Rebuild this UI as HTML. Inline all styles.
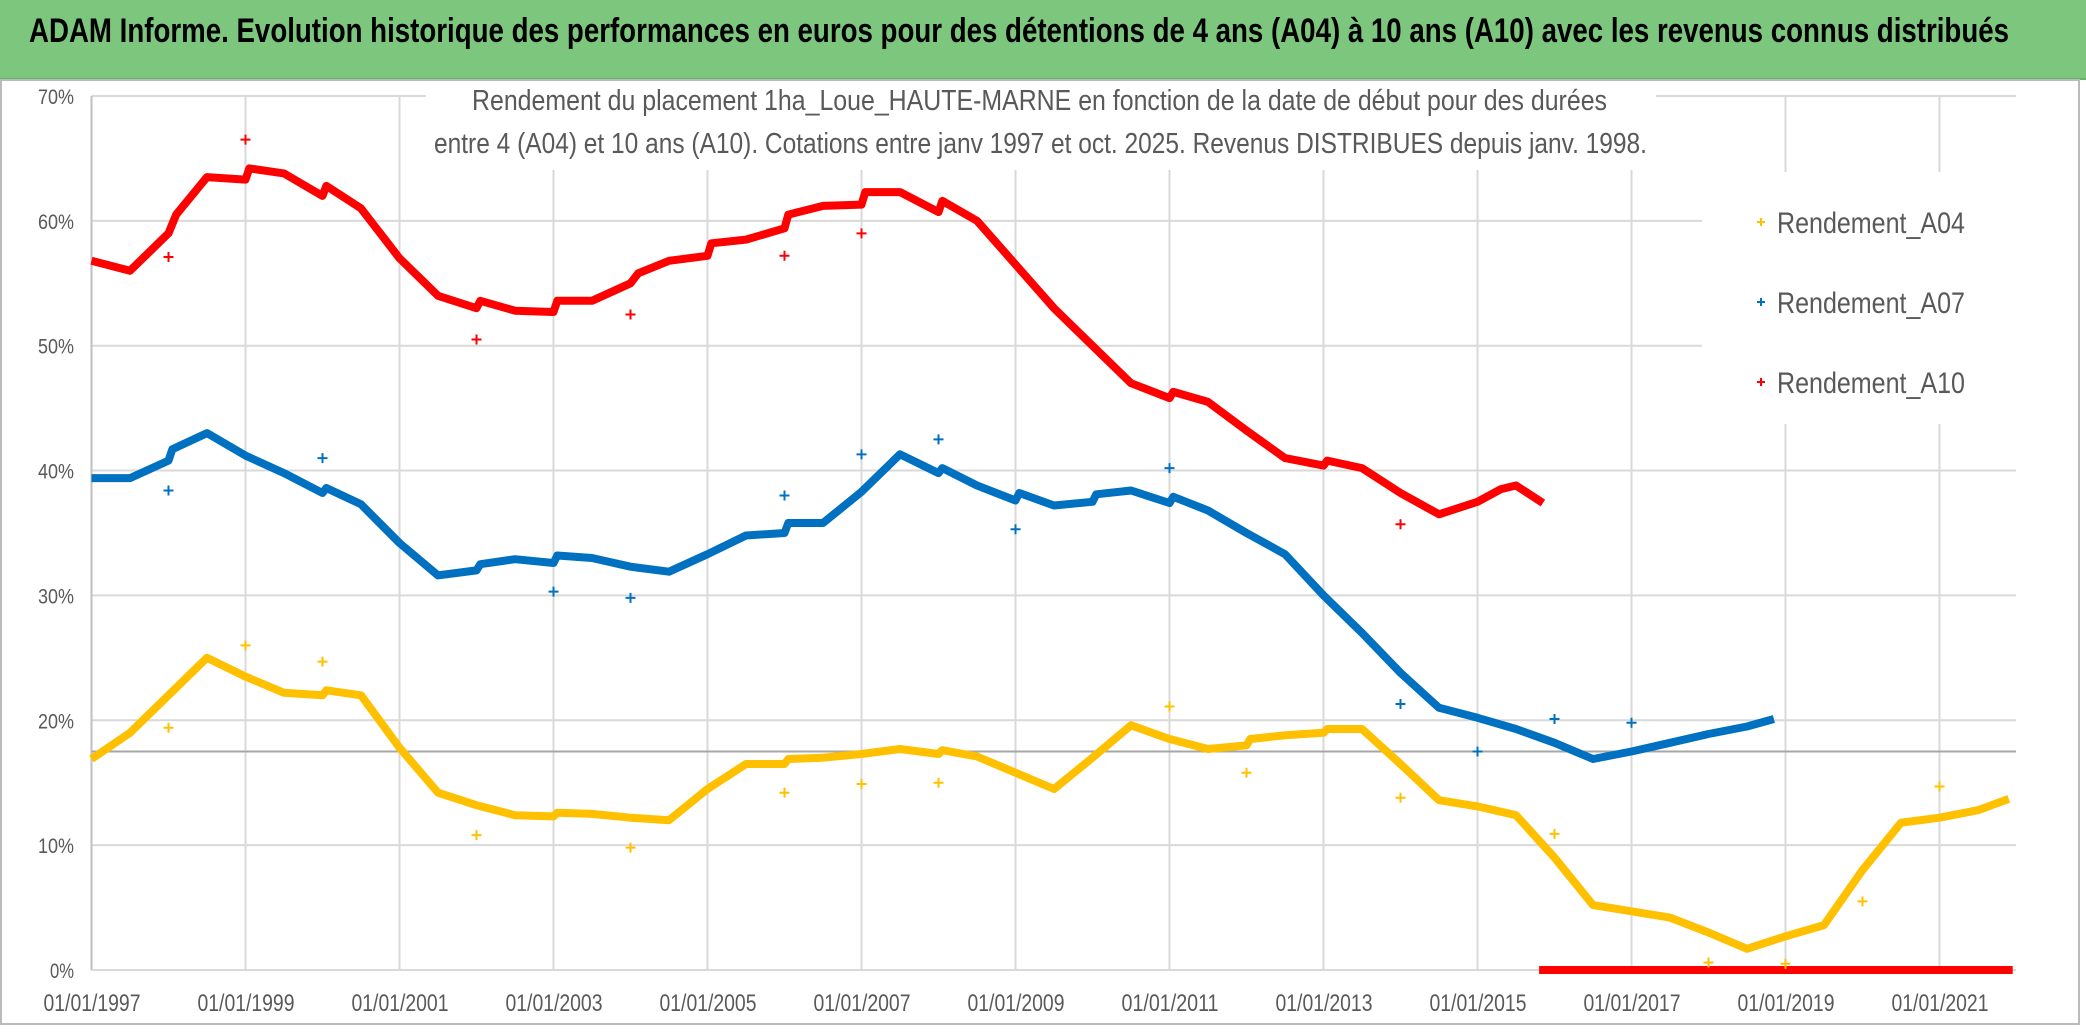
<!DOCTYPE html>
<html><head><meta charset="utf-8">
<style>
body{margin:0;width:2086px;height:1032px;overflow:hidden;background:#fff;font-family:"Liberation Sans",sans-serif;}
#title{position:absolute;left:0;top:0;width:2086px;height:78px;background:#7dc67e;border-bottom:2px solid #6ab06b;}
svg{position:absolute;left:0;top:0;}
</style></head><body>
<div id="title"></div>
<svg id="chart" width="2086" height="1032">
<text x="29" y="42" font-size="34" font-weight="bold" fill="#000" textLength="1980" lengthAdjust="spacingAndGlyphs">ADAM Informe. Evolution historique des performances en euros pour des détentions de 4 ans (A04) à 10 ans (A10) avec les revenus connus distribués</text>
</svg>
<script>
const xTicks=[1997,1999,2001,2003,2005,2007,2009,2011,2013,2015,2017,2019,2021];
const yTicks=[0,10,20,30,40,50,60,70];
const a10X=[1997,1997.5,1998,1998.1,1998.5,1999,1999.05,1999.5,2000,2000.05,2000.5,2001,2001.5,2002,2002.05,2002.5,2003,2003.05,2003.5,2004,2004.1,2004.5,2005,2005.05,2005.5,2006,2006.05,2006.5,2007,2007.05,2007.5,2008,2008.05,2008.5,2009,2009.5,2010,2010.5,2011,2011.05,2011.5,2012,2012.5,2013,2013.05,2013.5,2014,2014.5,2015,2015.3,2015.5,2015.85];
const a10Y=[56.8,56,59,60.5,63.5,63.3,64.2,63.8,62,62.8,61,57,54,53,53.6,52.8,52.7,53.6,53.6,55,55.8,56.8,57.2,58.2,58.5,59.4,60.5,61.2,61.3,62.3,62.3,60.7,61.6,60,56.5,53,50,47,45.8,46.3,45.5,43.2,41,40.4,40.8,40.2,38.2,36.5,37.5,38.5,38.8,37.4];
const a10OutX=[1998,1999,2002,2004,2006,2007,2014];
const a10OutY=[57.1,66.5,50.5,52.5,57.2,59,35.7];
const a07X=[1997,1997.5,1998,1998.05,1998.5,1999,1999.5,2000,2000.05,2000.5,2001,2001.5,2002,2002.05,2002.5,2003,2003.05,2003.5,2004,2004.5,2005,2005.5,2006,2006.05,2006.5,2007,2007.5,2008,2008.05,2008.5,2009,2009.05,2009.5,2010,2010.05,2010.5,2011,2011.05,2011.5,2012,2012.5,2013,2013.5,2014,2014.5,2015,2015.5,2016,2016.5,2017,2017.5,2018,2018.5,2018.85];
const a07Y=[39.4,39.4,40.8,41.7,43,41.2,39.8,38.2,38.6,37.3,34.2,31.6,32,32.5,32.9,32.6,33.2,33,32.3,31.9,33.3,34.8,35,35.8,35.8,38.3,41.3,39.8,40.2,38.8,37.6,38.2,37.2,37.5,38.1,38.4,37.4,37.9,36.8,35,33.3,30,27,23.8,21,20.2,19.3,18.2,16.9,17.5,18.2,18.9,19.5,20.1];
const a07OutX=[1998,2000,2003,2004,2006,2007,2008,2009,2011,2014,2015,2016,2017];
const a07OutY=[38.4,41,30.3,29.8,38,41.3,42.5,35.3,40.2,21.3,17.5,20.1,19.8];
const a04X=[1997,1997.5,1998,1998.5,1999,1999.5,2000,2000.05,2000.5,2001,2001.5,2002,2002.5,2003,2003.05,2003.5,2004,2004.5,2005,2005.5,2006,2006.05,2006.5,2007,2007.5,2008,2008.05,2008.5,2009,2009.5,2010,2010.5,2011,2011.5,2012,2012.05,2012.5,2013,2013.05,2013.5,2014,2014.5,2015,2015.5,2016,2016.5,2017,2017.5,2018,2018.5,2019,2019.5,2020,2020.5,2021,2021.5,2021.9];
const a04Y=[16.9,19,22,25,23.5,22.2,22,22.4,22,17.8,14.2,13.2,12.4,12.3,12.6,12.5,12.2,12,14.5,16.5,16.5,16.9,17,17.3,17.7,17.3,17.6,17.1,15.8,14.5,17,19.6,18.5,17.7,18,18.5,18.8,19,19.3,19.3,16.5,13.6,13.1,12.4,9,5.2,4.7,4.2,3,1.7,2.7,3.6,8,11.8,12.2,12.8,13.7];
const a04OutX=[1998,1999,2000,2002,2004,2006,2007,2008,2011,2012,2014,2016,2018,2019,2020,2021];
const a04OutY=[19.4,26,24.7,10.8,9.8,14.2,14.9,15,21.1,15.8,13.8,10.9,0.6,0.5,5.5,14.7];
const zeroX=[2015.8,2021.95];
const zeroY=[0,0];
const refLine=17.5;

const NS='http://www.w3.org/2000/svg';
const svg=document.getElementById('chart');
const X=v=>91.5+(v-1997)*77;
const Y=v=>970-v*12.486;
function mk(tag,attrs,parent){const e=document.createElementNS(NS,tag);for(const k in attrs)e.setAttribute(k,attrs[k]);(parent||svg).appendChild(e);return e;}
const fr=mk('rect',{x:1,y:80,width:2078,height:944,fill:'none',stroke:'#bbb','stroke-width':2});


yTicks.forEach(t=>{
  const l=mk('line',{x1:X(1997),x2:2016,y1:Y(t),y2:Y(t),stroke:'#d9d9d9','stroke-width':2});
  
  
  const tx=mk('text',{x:74,y:Y(t)+8,'text-anchor':'end','font-size':21,fill:'#595959',textLength:t?36:24,lengthAdjust:'spacingAndGlyphs'});
  tx.textContent=t+'%';
  
  
});
xTicks.forEach(t=>{
  const l=mk('line',{x1:X(t),x2:X(t),y1:Y(70),y2:Y(0),stroke:'#d9d9d9','stroke-width':2});
  
  
  const tx=mk('text',{x:X(t)-48,y:1011,'font-size':24,fill:'#595959',textLength:97,lengthAdjust:'spacingAndGlyphs'});
  tx.textContent='01/01/'+t;
  
  
});
const axl=mk('line',{x1:X(1997),x2:X(1997),y1:Y(70),y2:Y(0),stroke:'#bfbfbf','stroke-width':2});


const rl=mk('line',{x1:X(1997),x2:2016,y1:Y(refLine),y2:Y(refLine),stroke:'#a6a6a6','stroke-width':2});


const sb=mk('rect',{x:426,y:82,width:1230,height:88,fill:'#fff'});


const s1=mk('text',{x:472,y:110,'font-size':29,fill:'#595959',textLength:1135,lengthAdjust:'spacingAndGlyphs'});
s1.textContent='Rendement du placement 1ha_Loue_HAUTE-MARNE en fonction de la date de début pour des durées';


const s2=mk('text',{x:434,y:153,'font-size':29,fill:'#595959',textLength:1213,lengthAdjust:'spacingAndGlyphs'});
s2.textContent='entre 4 (A04) et 10 ans (A10). Cotations entre janv 1997 et oct. 2025. Revenus DISTRIBUES depuis janv. 1998.';


function series(xs,ys,col,name,w){
  const pts=xs.map((x,i)=>X(x).toFixed(1)+','+Y(ys[i]).toFixed(1)).join(' ');
  const p=mk('polyline',{points:pts,fill:'none',stroke:col,'stroke-width':w||8,'stroke-linejoin':'round','stroke-linecap':'butt'});
  
  
}
function outliers(xs,ys,col,name){
  xs.forEach((x,i)=>{
    const cx=X(x),cy=Y(ys[i]);
    const p=mk('path',{d:`M${cx-5},${cy}h10M${cx},${cy-5}v10`,stroke:col,'stroke-width':2});
    
    
  });
}
series(a04X,a04Y,'#ffc000','series-a04-line');
series(a07X,a07Y,'#0070c0','series-a07-line');
series(a10X,a10Y,'#ff0000','series-a10-line');
series(zeroX,zeroY,'#ff0000','series-a10-zero-line',8);
outliers(a04OutX,a04OutY,'#ffc000','a04-point');
outliers(a07OutX,a07OutY,'#0070c0','a07-point');
outliers(a10OutX,a10OutY,'#ff0000','a10-point');
const lb=mk('rect',{x:1702,y:172,width:372,height:252,fill:'#fff'});


[['Rendement_A04','#ffc000',222],['Rendement_A07','#0070c0',302],['Rendement_A10','#ff0000',382]].forEach(e=>{
  const g=mk('g',{});
  
  
  mk('path',{d:`M${1757},${e[2]}h8M${1761},${e[2]-4}v8`,stroke:e[1],'stroke-width':2},g);
  const t=mk('text',{x:1777,y:e[2]+11,'font-size':30,fill:'#595959',textLength:188,lengthAdjust:'spacingAndGlyphs'},g);
  t.textContent=e[0];
});
</script>
</body></html>
